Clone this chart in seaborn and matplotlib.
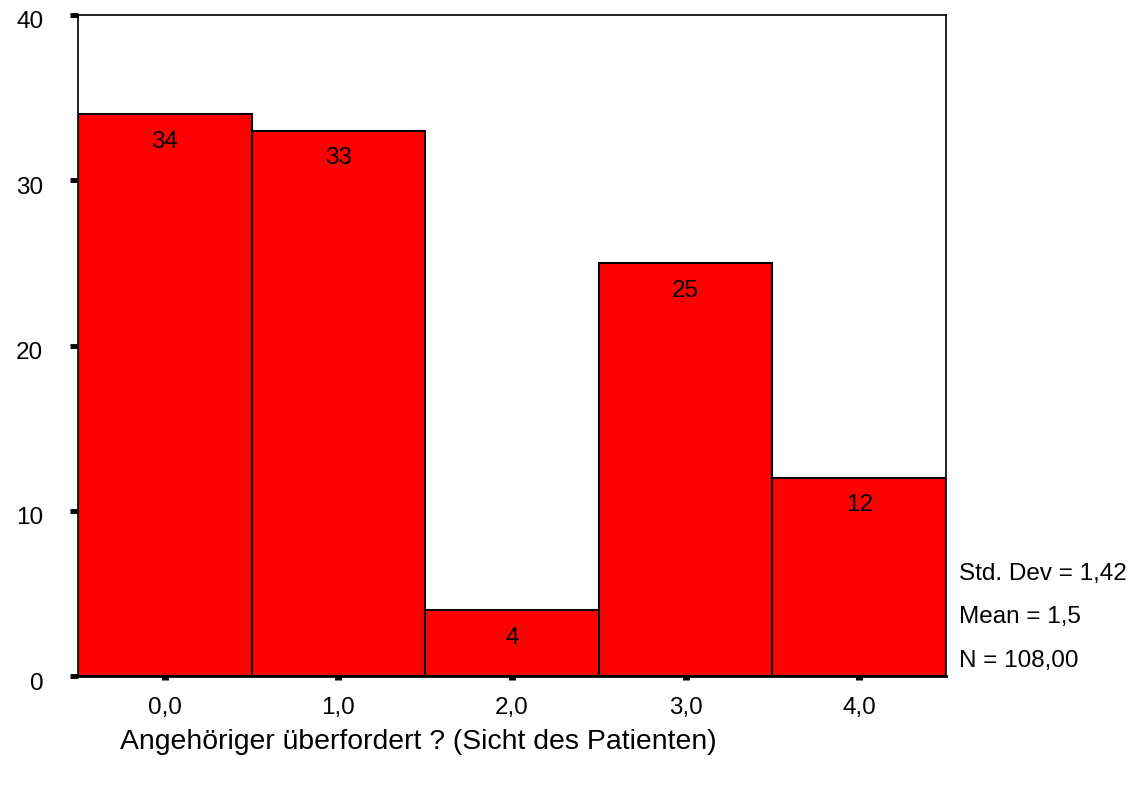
import matplotlib
matplotlib.use("Agg")
import matplotlib.pyplot as plt
import matplotlib.transforms as mtransforms
import seaborn as sns
import pandas as pd

# histogram data
values = [0, 1, 2, 3, 4]
counts = [34, 33, 4, 25, 12]
tick_labels = ["0,0", "1,0", "2,0", "3,0", "4,0"]
stats_lines = ["Std. Dev = 1,42", "Mean = 1,5", "N = 108,00"]
x_title = "Angehöriger überfordert ? (Sicht des Patienten)"

sns.set_style("white")
plt.rcParams["font.family"] = ["Liberation Sans", "DejaVu Sans"]
plt.rcParams["text.color"] = "black"
plt.rcParams["axes.labelcolor"] = "black"
plt.rcParams["xtick.color"] = "black"
plt.rcParams["ytick.color"] = "black"

df = pd.DataFrame({"value": values, "count": counts})

fig = plt.figure(figsize=(11.38, 8.05), dpi=100)
ax = fig.add_axes([0.0685, 0.1602, 0.8313 - 0.0685, 0.9814 - 0.1602])

sns.histplot(data=df, x="value", weights="count", discrete=True, shrink=1,
             color="#ff0000", edgecolor="black", linewidth=1.5, alpha=1, ax=ax)

for v, c in zip(values, counts):
    ax.annotate(str(c), (v, c), xytext=(0, -20), textcoords="offset points",
                ha="center", va="center", fontsize=17.5, color="black")

ax.set_xlim(-0.5, 4.5)
ax.set_ylim(0, 40)
ax.set_yticks([0, 10, 20, 30, 40])
ax.set_xticks(values)
ax.set_xticklabels(tick_labels)
ax.tick_params(axis="y", direction="out", length=6, width=3.5,
               labelsize=17.5, pad=19, left=True)
ax.tick_params(axis="x", direction="out", length=3, width=5,
               labelsize=17.5, pad=12, bottom=True)
for side in ["left", "right", "top", "bottom"]:
    ax.spines[side].set_color("black")
    ax.spines[side].set_linewidth(1.2)
ax.spines["bottom"].set_linewidth(2)

# SPSS puts the y labels a little below their ticks
shift = mtransforms.ScaledTranslation(0, -5 / 100, fig.dpi_scale_trans)
for lab in ax.get_yticklabels():
    lab.set_transform(lab.get_transform() + shift)

ax.set_ylabel("")
ax.set_xlabel(x_title, fontsize=20.4, color="black")
ax.xaxis.set_label_coords((120 - 78) / 868, -(742 - 676) / 661)
ax.xaxis.label.set_horizontalalignment("left")
ax.xaxis.label.set_verticalalignment("center")

for i, line in enumerate(stats_lines):
    fig.text(959 / 1138, 1 - (574 + i * 43.5) / 805, line, fontsize=17.5,
             ha="left", va="center")

fig.savefig("out.png", dpi=100)
